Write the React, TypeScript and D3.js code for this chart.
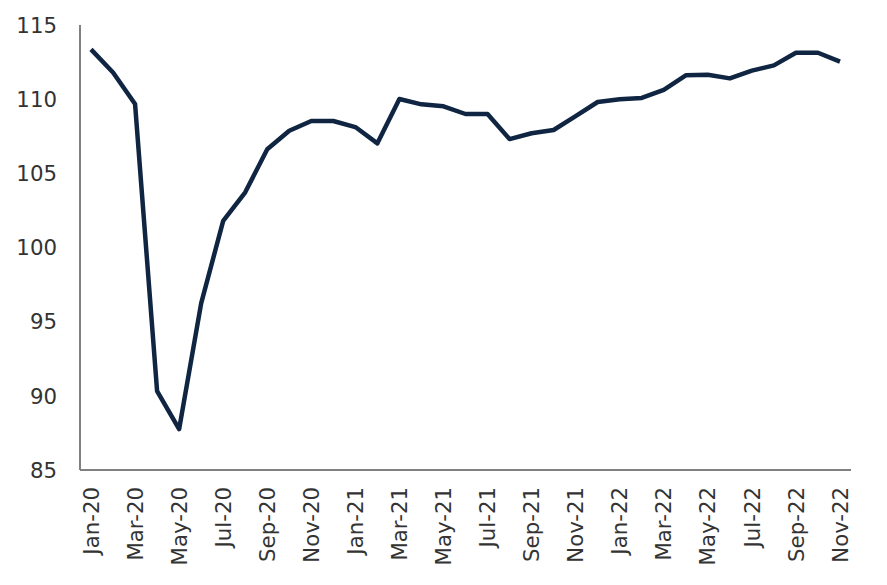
import React from "react";
import * as d3 from "d3";

const months = [
  "Jan-20","Feb-20","Mar-20","Apr-20","May-20","Jun-20","Jul-20","Aug-20","Sep-20","Oct-20","Nov-20","Dec-20",
  "Jan-21","Feb-21","Mar-21","Apr-21","May-21","Jun-21","Jul-21","Aug-21","Sep-21","Oct-21","Nov-21","Dec-21",
  "Jan-22","Feb-22","Mar-22","Apr-22","May-22","Jun-22","Jul-22","Aug-22","Sep-22","Oct-22","Nov-22",
];
const values = [
  113.36, 111.8, 109.67, 90.32, 87.76, 96.23, 101.8, 103.72, 106.62, 107.87, 108.53, 108.53,
  108.12, 107.02, 110.01, 109.65, 109.52, 109.0, 109.0, 107.31, 107.7, 107.92, 108.86, 109.81,
  109.99, 110.08, 110.62, 111.61, 111.65, 111.4, 111.92, 112.28, 113.13, 113.13, 112.53,
];
const yTicks = [85, 90, 95, 100, 105, 110, 115];

const W = 887, H = 585;
const left = 80, right = 851, top = 25, bottom = 470;

export default function App() {
  const x = d3.scaleBand<string>().domain(months).range([left, right]).padding(0);
  const y = d3.scaleLinear().domain([85, 115]).range([bottom, top]);
  const cx = (m: string) => (x(m) as number) + x.bandwidth() / 2;
  const line = d3.line<number>().x((_, i) => cx(months[i])).y((d) => y(d));
  const font = "'DejaVu Sans', Verdana, sans-serif";
  return (
    <svg width={W} height={H} style={{ position: "absolute", left: 0, top: 0, background: "#fff" }}>
      <line x1={left} x2={left} y1={top} y2={bottom} stroke="#808080" strokeWidth={2} />
      <line x1={left} x2={right} y1={bottom} y2={bottom} stroke="#808080" strokeWidth={2} />
      {yTicks.map((t) => (
        <text key={t} x={57} y={y(t)} dy="0.36em" textAnchor="end" fontFamily={font} fontSize={21.3} fill="#333">
          {t}
        </text>
      ))}
      {months.map((m, i) =>
        i % 2 === 0 ? (
          <text
            key={m}
            transform={`translate(${cx(m)},${bottom + 17}) rotate(-90)`}
            dy="0.36em"
            textAnchor="end"
            fontFamily={font}
            fontSize={21.3}
            fill="#333"
          >
            {m}
          </text>
        ) : null
      )}
      <path d={line(values) || ""} fill="none" stroke="#0f2541" strokeWidth={4.5} strokeLinejoin="round" />
    </svg>
  );
}
